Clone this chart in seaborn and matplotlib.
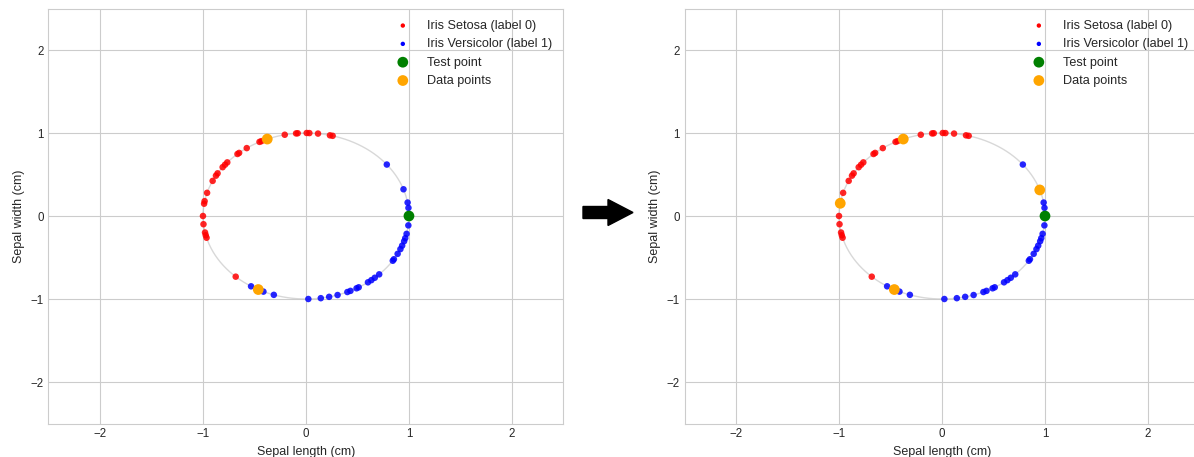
import numpy as np
import pandas as pd
import matplotlib
matplotlib.use("Agg")
import matplotlib.pyplot as plt
from matplotlib.patches import FancyArrow
import seaborn as sns

# Normalised sepal measurements projected onto the unit circle
setosa_x = [-0.206, -0.096, -0.080, 0.007, 0.033, 0.117, 0.233, 0.259, -0.451, -0.432,
            -0.575, -0.665, -0.649, -0.764, -0.786, -0.809, -0.858, -0.874, -0.906, -0.960,
            -0.984, -0.989, -1.000, -0.995, -0.980, -0.973, -0.965, -0.682, -0.376]
setosa_y = [0.979, 0.995, 0.997, 1.000, 0.999, 0.993, 0.972, 0.966, 0.893, 0.902,
            0.818, 0.747, 0.760, 0.646, 0.618, 0.588, 0.514, 0.486, 0.423, 0.279,
            0.179, 0.148, 0.000, -0.099, -0.199, -0.232, -0.262, -0.731, 0.927]

versicolor_x = [-0.533, -0.413, -0.312, 0.023, 0.144, 0.225, 0.307, 0.402, 0.432, 0.491,
                0.512, 0.602, 0.635, 0.668, 0.711, 0.843, 0.854, 0.890, 0.917, 0.934,
                0.953, 0.964, 0.977, 0.994, 0.995, 0.987, 0.947, 0.785, -0.463]
versicolor_y = [-0.847, -0.911, -0.950, -1.000, -0.990, -0.974, -0.952, -0.916, -0.902, -0.871,
                -0.859, -0.799, -0.773, -0.744, -0.703, -0.539, -0.521, -0.456, -0.399, -0.357,
                -0.304, -0.267, -0.215, -0.113, 0.098, 0.162, 0.322, 0.620, -0.886]

test_x = [1.0]
test_y = [0.0]

# Selected data points before and after the update
data_before_x = [-0.376, -0.463]
data_before_y = [0.927, -0.886]
data_after_x = [-0.376, -0.463, -0.988, 0.949]
data_after_y = [0.927, -0.886, 0.153, 0.314]

ticks = [-2, -1, 0, 1, 2]

sns.set_style("whitegrid")
plt.rcParams["font.family"] = ["Liberation Sans", "DejaVu Sans"]

fig = plt.figure(figsize=(11.94, 4.57), dpi=100)
ax_left = fig.add_axes([0.0406, 0.0733, 0.4313, 0.9081])
ax_right = fig.add_axes([0.5733, 0.0733, 0.4313, 0.9081])

setosa = pd.DataFrame({"x": setosa_x, "y": setosa_y})
versicolor = pd.DataFrame({"x": versicolor_x, "y": versicolor_y})
theta = np.linspace(0, 2 * np.pi, 400)


def draw_panel(ax, dx, dy):
    ax.plot(np.cos(theta), np.sin(theta), color="#c8c8c8", lw=1.0, alpha=0.7, zorder=1)
    sns.scatterplot(data=setosa, x="x", y="y", ax=ax, color="red", s=22, alpha=0.85,
                    edgecolor="none", label="Iris Setosa (label 0)", zorder=2)
    sns.scatterplot(data=versicolor, x="x", y="y", ax=ax, color="blue", s=22, alpha=0.85,
                    edgecolor="none", label="Iris Versicolor (label 1)", zorder=2)
    sns.scatterplot(x=test_x, y=test_y, ax=ax, color="green", s=60,
                    edgecolor="none", label="Test point", zorder=3)
    sns.scatterplot(x=dx, y=dy, ax=ax, color="orange", s=60,
                    edgecolor="none", label="Data points", zorder=3)
    ax.set_xlim(-2.5, 2.5)
    ax.set_ylim(-2.5, 2.5)
    ax.set_xticks(ticks)
    ax.set_yticks(ticks)
    ax.tick_params(labelsize=8.3, colors=".15", length=0)
    ax.set_xlabel("Sepal length (cm)", fontsize=9, color=".15")
    ax.set_ylabel("Sepal width (cm)", fontsize=9, color=".15")
    leg = ax.legend(loc="upper right", frameon=False, fontsize=9.1, handletextpad=0.9)
    for handle, size in zip(leg.legend_handles, [10, 10, 60, 60]):
        handle.set_sizes([size])
        handle.set_alpha(1)
    for text in leg.get_texts():
        text.set_color(".15")


draw_panel(ax_left, data_before_x, data_before_y)
draw_panel(ax_right, data_after_x, data_after_y)

# Arrow between the two panels
arrow = FancyArrow(5.83, 2.445, 0.50, 0.0, width=0.12, head_width=0.26,
                   head_length=0.25, length_includes_head=True, color="black",
                   transform=fig.dpi_scale_trans)
fig.patches.append(arrow)

fig.savefig("out.png", dpi=100)
